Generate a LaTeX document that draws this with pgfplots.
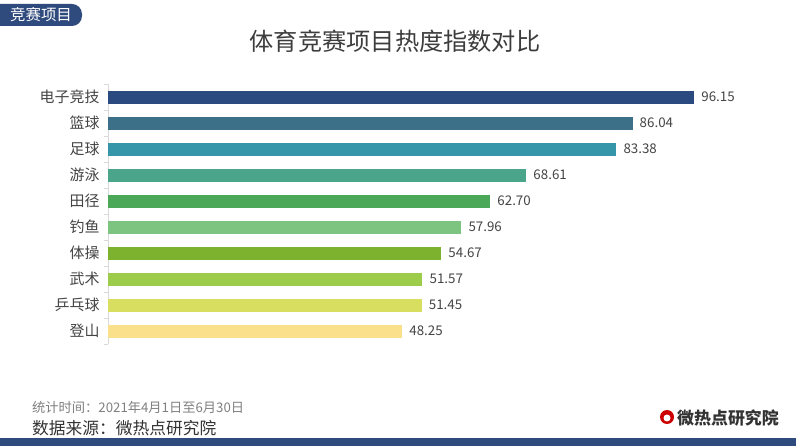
\documentclass[border=0pt]{standalone}
\usepackage{pgfplots}
\pgfplotsset{compat=1.18}
\usepackage{fontspec}
\setmainfont{Noto Sans CJK SC}
\definecolor{c1}{HTML}{2B4A80}
\definecolor{c2}{HTML}{3C7088}
\definecolor{c3}{HTML}{3496A8}
\definecolor{c4}{HTML}{4AA58A}
\definecolor{c5}{HTML}{4AA858}
\definecolor{c6}{HTML}{7CC47F}
\definecolor{c7}{HTML}{7DB22E}
\definecolor{c8}{HTML}{9CCC4A}
\definecolor{c9}{HTML}{D8DF60}
\definecolor{c10}{HTML}{FBE08C}
\definecolor{navy}{HTML}{2F4A7C}
\definecolor{txt}{HTML}{444444}
\begin{document}
\begin{tikzpicture}
\fill[white] (0bp,0bp) rectangle (796bp,446bp);
% bottom band
\fill[navy] (0bp,0bp) rectangle (796bp,8bp);
% tag
\begin{scope}
\clip (0bp,0bp) rectangle (796bp,446bp);
\fill[navy,rounded corners=10bp] (-12bp,420bp) rectangle (82bp,442bp);
\end{scope}
\node[white,font=\fontsize{15.5}{18}\selectfont] at (41bp,431bp) {竞赛项目};
% title
\node[txt!90!black,font=\fontsize{24.3}{28}\selectfont] at (395bp,405bp) {体育竞赛项目热度指数对比};
\begin{axis}[
  at={(108bp,102bp)}, anchor=south west,
  scale only axis, width=670.6bp, height=260bp,
  xmin=0, xmax=110, ymin=-0.5, ymax=9.5,
  y dir=reverse,
  xbar, bar width=13bp, bar shift=0pt,
  hide x axis,
  axis y line*=left,
  y axis line style={draw=black!15, line width=0.6pt},
  ytick={0,...,9},
  yticklabels={电子竞技,篮球,足球,游泳,田径,钓鱼,体操,武术,乒乓球,登山},
  major tick length=0pt,
  minor ytick={-0.5,0.5,...,9.5},
  minor tick length=3.5bp,
  tick align=outside,
  ytick pos=left,
  minor tick style={draw=black!15, line width=0.6pt},
  yticklabel style={font=\fontsize{15}{18}\selectfont, text=txt, xshift=-5bp},
  point meta=explicit symbolic,
  nodes near coords,
  nodes near coords style={font=\fontsize{13.4}{15}\selectfont, text=txt, anchor=west, inner sep=0pt, xshift=7bp},
  clip=false,
]
\addplot[fill=c1,draw=none] coordinates {(96.15,0) [96.15]};
\addplot[fill=c2,draw=none] coordinates {(86.04,1) [86.04]};
\addplot[fill=c3,draw=none] coordinates {(83.38,2) [83.38]};
\addplot[fill=c4,draw=none] coordinates {(68.61,3) [68.61]};
\addplot[fill=c5,draw=none] coordinates {(62.70,4) [62.70]};
\addplot[fill=c6,draw=none] coordinates {(57.96,5) [57.96]};
\addplot[fill=c7,draw=none] coordinates {(54.67,6) [54.67]};
\addplot[fill=c8,draw=none] coordinates {(51.57,7) [51.57]};
\addplot[fill=c9,draw=none] coordinates {(51.45,8) [51.45]};
\addplot[fill=c10,draw=none] coordinates {(48.25,9) [48.25]};
\end{axis}
% footer
\node[anchor=west,text=black!50,font=\fontsize{13.3}{15}\selectfont,inner sep=0pt] at (32bp,39bp) {统计时间：2021年4月1日至6月30日};
\node[anchor=west,text=black!80,font=\fontsize{16.8}{19}\selectfont,inner sep=0pt] at (32bp,18bp) {数据来源：微热点研究院};
% logo
\fill[red!80!black] (667bp,29bp) circle (7bp);
\fill[white] (667bp,28bp) circle (3.5bp);
\node[anchor=west,text=black!80,font=\fontsize{17}{19}\selectfont\bfseries,inner sep=0pt] at (677bp,28bp) {微热点研究院};
\end{tikzpicture}
\end{document}
